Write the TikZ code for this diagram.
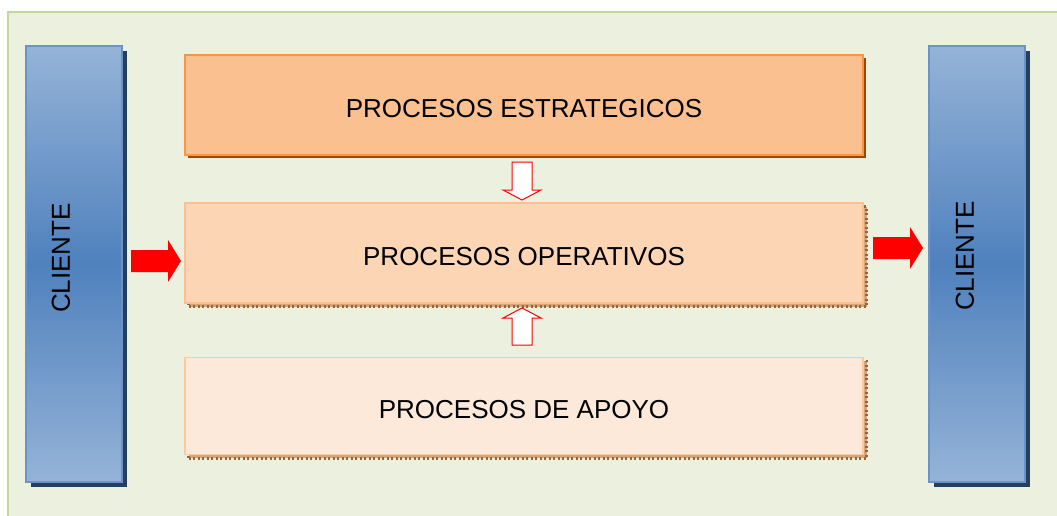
\documentclass[tikz,border=0pt]{standalone}
\usepackage{fontspec}
\setmainfont{Liberation Sans}
\usetikzlibrary{shadows}
\definecolor{bgfill}{HTML}{EBF1DE}
\definecolor{bgline}{HTML}{C3D69B}
\definecolor{blight}{HTML}{95B3D7}
\definecolor{bdark}{HTML}{4F81BD}
\definecolor{bline}{HTML}{6C93C8}
\definecolor{bshadow}{HTML}{243F60}
\definecolor{estfill}{HTML}{FAC090}
\definecolor{estline}{HTML}{F79646}
\definecolor{estshadow}{HTML}{984807}
\definecolor{opfill}{HTML}{FCD5B4}
\definecolor{opline}{HTML}{FAC090}
\definecolor{apfill}{HTML}{FDE9D9}
\definecolor{apline}{HTML}{FBCBA0}
\definecolor{dotlight}{HTML}{D2A57C}
\definecolor{dotdark}{HTML}{9C6434}
\definecolor{arrowred}{HTML}{FF0000}
\begin{document}
\begin{tikzpicture}[x=1pt,y=-1pt,
  bgbox/.style={fill=bgfill,draw=bgline,line width=1.5pt},
  clientebox/.style={rectangle,minimum width=96pt,minimum height=436pt,
    top color=blight,bottom color=blight,middle color=bdark,draw=bline,line width=1.5pt,
    general shadow={shadow xshift=5pt,shadow yshift=-5pt,fill=bshadow}},
  clientetext/.style={rotate=90,font=\fontsize{26}{30}\selectfont,inner sep=0pt},
  procbox/.style={rectangle,minimum width=678pt,minimum height=100pt,line width=1.2pt,
    font=\fontsize{26}{30}\selectfont,text height=24.6pt,text depth=0pt},
  dotshadow/.style={general shadow={shadow xshift=3.5pt,shadow yshift=-3.5pt,fill=dotlight,
    draw=dotdark,line width=3pt,dash pattern=on 2pt off 2.5pt}},
  blockarrow/.pic={\fill[arrowred] (0,-11) -- (37,-11) -- (37,-21) -- (50,0) -- (37,21) -- (37,11) -- (0,11) -- cycle;},
  hollowdown/.pic={\draw[arrowred,fill=white,line width=1pt,line join=miter] (-10,0) -- (10,0) -- (10,28) -- (19,28) -- (0,38) -- (-19,28) -- (-10,28) -- cycle;},
  hollowup/.pic={\draw[arrowred,fill=white,line width=1pt,line join=miter] (-10,0) -- (10,0) -- (10,-27) -- (19,-27) -- (0,-37) -- (-19,-27) -- (-10,-27) -- cycle;}
]
\useasboundingbox (0,0) rectangle (1057,516);
\fill[white] (0,0) rectangle (1057,516);
\draw[bgbox] (8,12) rectangle (1070,530);

\node[clientebox] (cl) at (74,264) {};
\node[clientebox] (cr) at (977,264) {};
\node[clientetext] (clt) at (61,258) {CLIENTE};
\node[clientetext] (crt) at (965,256) {CLIENTE};

\node[procbox,fill=estfill,draw=estline,
  general shadow={shadow xshift=3pt,shadow yshift=-3pt,fill=estshadow}] (est) at (524,105) {PROCESOS ESTRATEGICOS};
\node[procbox,fill=opfill,draw=opline,dotshadow] (op) at (524,253) {PROCESOS OPERATIVOS};
\node[procbox,fill=apfill,draw=apline,minimum height=97pt,dotshadow] (ap) at (524,406) {PROCESOS DE APOYO};

\pic at (131,261) {blockarrow};
\pic at (873,248) {blockarrow};
\pic at (522,162) {hollowdown};
\pic at (522,345) {hollowup};
\end{tikzpicture}
\end{document}
